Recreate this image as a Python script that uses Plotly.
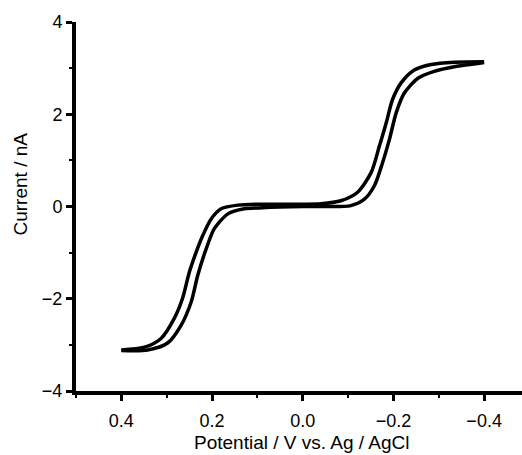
import plotly.graph_objects as go

# Forward scan (0.4 V -> -0.4 V)
forward_potential = [0.40, 0.342, 0.298, 0.268, 0.246, 0.2315, 0.213, 0.195, 0.165, 0.129,
                     0.096, 0.05, 0.0, -0.05, -0.106, -0.136, -0.158, -0.176, -0.191, -0.206,
                     -0.224, -0.254, -0.290, -0.334, -0.386, -0.40]
forward_current = [-3.12, -3.11, -2.96, -2.57, -2.07, -1.49, -0.92, -0.48, -0.16, -0.05,
                   -0.03, -0.01, 0.0, 0.0, 0.02, 0.16, 0.45, 0.95, 1.45, 2.03,
                   2.46, 2.78, 2.93, 3.03, 3.10, 3.12]

# Reverse scan (-0.4 V -> 0.4 V)
reverse_potential = [-0.40, -0.334, -0.283, -0.246, -0.217, -0.198, -0.184, -0.169, -0.151, -0.121,
                     -0.084, -0.040, 0.0, 0.05, 0.099, 0.143, 0.180, 0.202, 0.2205, 0.235,
                     0.250, 0.265, 0.283, 0.3125, 0.349, 0.40]
reverse_current = [3.14, 3.13, 3.08, 2.96, 2.68, 2.32, 1.81, 1.31, 0.74, 0.31,
                   0.125, 0.06, 0.05, 0.05, 0.05, 0.03, -0.05, -0.27, -0.63, -0.99,
                   -1.42, -1.99, -2.42, -2.86, -3.05, -3.11]

x_ticks = [0.4, 0.2, 0.0, -0.2, -0.4]
y_ticks = [-4, -2, 0, 2, 4]

FONT = "Liberation Sans, Arial, sans-serif"

fig = go.Figure()
for xs, ys in [(forward_potential, forward_current), (reverse_potential, reverse_current)]:
    fig.add_trace(go.Scatter(x=xs, y=ys, mode="lines",
                             line=dict(color="black", width=3.5, shape="spline", smoothing=0.75),
                             showlegend=False, hoverinfo="skip"))

fig.update_layout(
    width=522, height=455,
    margin=dict(l=76, r=0, t=22, b=64),
    paper_bgcolor="white", plot_bgcolor="white",
    font=dict(family=FONT, size=18, color="black"),
    xaxis=dict(range=[0.5, -0.4835], tickvals=x_ticks,
               ticktext=["0.4", "0.2", "0.0", "\u22120.2", "\u22120.4"],
               showgrid=False, zeroline=False, showline=True, linecolor="black", linewidth=4,
               ticks="outside", ticklen=6, tickwidth=3, tickcolor="black", ticklabelstandoff=4,
               minor=dict(ticks="outside", ticklen=3, tickwidth=2, tickcolor="black",
                          tickvals=[0.5, 0.3, 0.1, -0.1, -0.3])),
    yaxis=dict(range=[-4, 4], tickvals=y_ticks,
               ticktext=["\u22124", "\u22122", "0", "2", "4"],
               showgrid=False, zeroline=False, showline=True, linecolor="black", linewidth=4,
               ticks="outside", ticklen=6, tickwidth=3, tickcolor="black",
               minor=dict(ticks="outside", ticklen=3, tickwidth=2, tickcolor="black",
                          tickvals=[-3, -1, 1, 3])),
    annotations=[
        dict(text="Potential / V vs. Ag / AgCl", xref="paper", yref="paper",
             x=0.505, y=0, yshift=-51, xanchor="center", yanchor="middle",
             showarrow=False, font=dict(family=FONT, size=19, color="black")),
        dict(text="Current / nA", xref="paper", yref="paper",
             x=0, y=0.5, xshift=-56, yshift=22, textangle=-90,
             xanchor="center", yanchor="middle",
             showarrow=False, font=dict(family=FONT, size=19, color="black")),
    ],
)

fig.write_html("out.html")
